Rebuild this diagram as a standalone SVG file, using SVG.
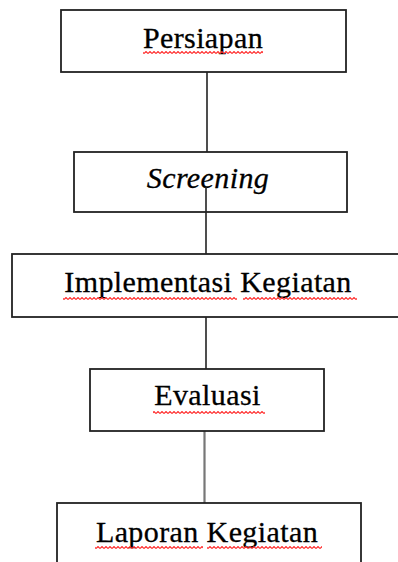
<svg xmlns="http://www.w3.org/2000/svg" width="398" height="562" viewBox="0 0 398 562">
<style>
.box{fill:#fff;stroke:#222;stroke-width:1.8}
.lbl{font-family:"Liberation Serif","Times New Roman",serif;font-size:30px;fill:#000;stroke:#000;stroke-width:0.3;text-anchor:middle;letter-spacing:0.4px}
.it{font-style:italic}
.con{stroke:#222;stroke-width:1.6;fill:none}
.sq{fill:url(#sq)}
</style>
<defs>
<pattern id="sq" width="4" height="3" patternUnits="userSpaceOnUse">
<path d="M0,2.5 L2,0.5 L4,2.5" fill="none" stroke="#ff2a2a" stroke-width="1.1"/>
</pattern>
</defs>
<rect width="398" height="562" fill="#fff"/>
<g id="connectors">
<line class="con" x1="207" y1="72" x2="207" y2="152"/>
<line class="con" x1="206" y1="187" x2="206" y2="254"/>
<line class="con" x1="206" y1="317" x2="206" y2="369"/>
<line class="con" x1="204.5" y1="431" x2="204.5" y2="503" style="stroke:#777;stroke-width:2.2"/>
</g>
<g id="persiapan">
<rect class="box" x="61" y="10" width="285" height="62"/>
<text class="lbl" x="203" y="48">Persiapan</text>
<rect class="sq" x="143" y="51" width="120" height="3"/>
</g>
<g id="screening">
<rect class="box" x="74" y="152" width="273" height="60"/>
<text class="lbl it" x="208" y="188">Screening</text>
<line class="con" x1="206" y1="187" x2="206" y2="212"/>
</g>
<g id="implementasi">
<rect class="box" x="12" y="254" width="400" height="63"/>
<text class="lbl" x="208" y="292">Implementasi Kegiatan</text>
<rect class="sq" x="63" y="297" width="174" height="3"/>
<rect class="sq" x="243" y="297" width="114" height="3"/>
</g>
<g id="evaluasi">
<rect class="box" x="90" y="369" width="234" height="62"/>
<text class="lbl" x="207.5" y="405">Evaluasi</text>
<rect class="sq" x="153" y="411" width="112" height="3"/>
</g>
<g id="laporan">
<rect class="box" x="57" y="503" width="304" height="80"/>
<text class="lbl" x="207" y="542">Laporan Kegiatan</text>
<rect class="sq" x="95" y="546" width="108" height="3"/>
<rect class="sq" x="207" y="546" width="115" height="3"/>
</g>
</svg>
